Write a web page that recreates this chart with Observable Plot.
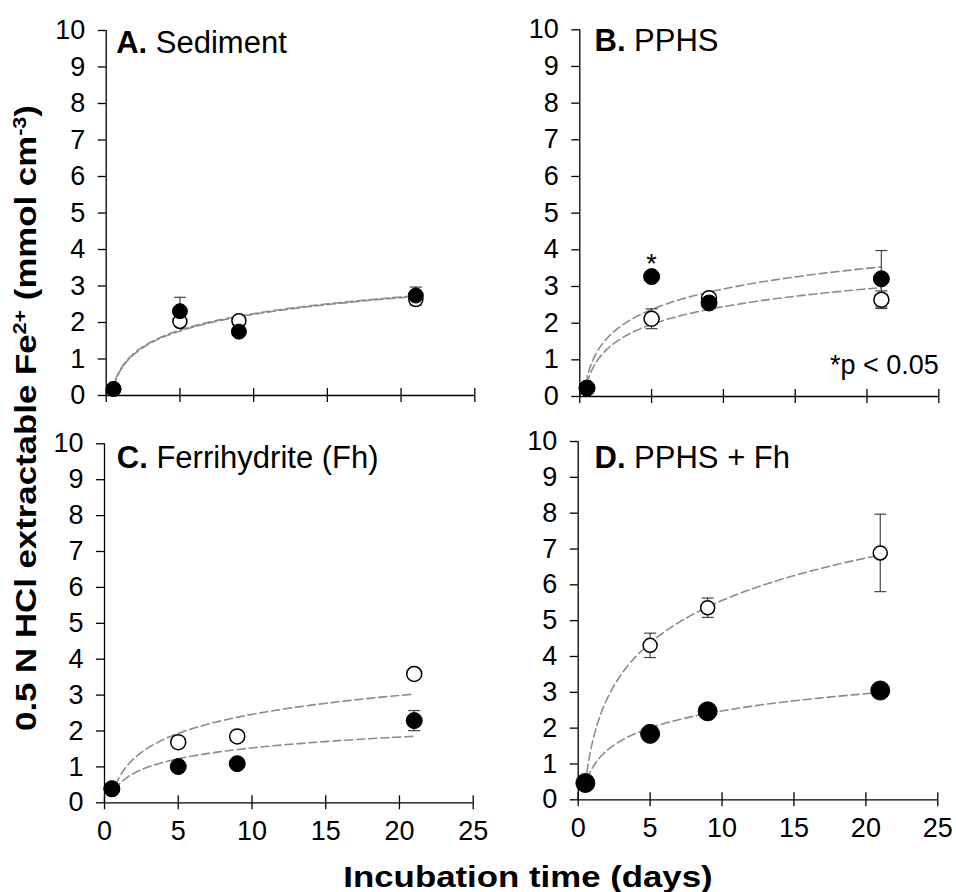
<!DOCTYPE html>
<html>
<head>
<meta charset="utf-8">
<script src="https://cdn.jsdelivr.net/npm/d3@7"></script>
<script src="https://cdn.jsdelivr.net/npm/@observablehq/plot@0.6"></script>
<style>
  html, body { margin: 0; padding: 0; background: #fff; }
  #wrap { position: relative; width: 956px; height: 892px; overflow: hidden;
          font-family: "Liberation Sans", Arial, Helvetica, sans-serif; color: #000; }
  .axis-title { position: absolute; white-space: nowrap; font-weight: bold; font-size: 30px; line-height: 1.15; }
  .axis-title sup { font-size: 0.62em; vertical-align: 0.55em; line-height: 0; }
</style>
</head>
<body>
<div id="wrap"></div>
<script>
// ---------------- data ----------------
const days = [0.5, 5, 9, 21];
const xTicks = [0, 5, 10, 15, 20, 25];
const yTicks = [0, 1, 2, 3, 4, 5, 6, 7, 8, 9, 10];

const panelLetters = ["A.", "B.", "C.", "D."];
const panelNames = ["Sediment", "PPHS", "Ferrihydrite (Fh)", "PPHS + Fh"];

// open circles
const sedimentOpen    = [0.18, 2.03, 2.05, 2.63];
const sedimentOpenErr = [0.05, 0.12, 0.10, 0.15];
// filled circles
const sedimentFilled    = [0.18, 2.31, 1.75, 2.74];
const sedimentFilledErr = [0.05, 0.38, 0.10, 0.23];

const pphsOpen    = [0.23, 2.12, 2.68, 2.64];
const pphsOpenErr = [0.05, 0.27, 0.12, 0.24];
const pphsFilled    = [0.23, 3.27, 2.55, 3.21];
const pphsFilledErr = [0.05, 0.10, 0.12, 0.77];

const fhOpen    = [0.39, 1.69, 1.85, 3.59];
const fhOpenErr = [0.05, 0.10, 0.10, 0.10];
const fhFilled    = [0.39, 1.01, 1.09, 2.29];
const fhFilledErr = [0.05, 0.10, 0.10, 0.28];

const pphsFhOpen    = [0.47, 4.31, 5.36, 6.89];
const pphsFhOpenErr = [0.05, 0.34, 0.27, 1.08];
const pphsFhFilled    = [0.47, 1.84, 2.47, 3.05];
const pphsFhFilledErr = [0.05, 0.15, 0.15, 0.15];

// significance marker (panel B, filled series) and note
const pphsSigDays = [5];
const pphsNote = ["*p < 0.05"];

const xTitle = "Incubation time (days)";

// ---------------- layout / style ----------------
const FONT = "'Liberation Sans', Arial, Helvetica, sans-serif";
const TICK_SIZE = 27;
const TITLE_SIZE = 31;
const xDomain = [0, 25];
const yDomain = [0, 10];

const panels = [
  {letter: panelLetters[0], name: panelNames[0], open: sedimentOpen, openErr: sedimentOpenErr, filled: sedimentFilled, filledErr: sedimentFilledErr,
   L: {left: 30, top: 0, width: 460, height: 420, ml: 75.7, mr: 15.7, mt: 30, mb: 25, xLabels: false, titleDx: 10, titleDy: 22, rOpen: 7, rFilled: 7.5}},
  {letter: panelLetters[1], name: panelNames[1], open: pphsOpen, openErr: pphsOpenErr, filled: pphsFilled, filledErr: pphsFilledErr,
   sig: pphsSigDays, note: pphsNote,
   L: {left: 500, top: 0, width: 456, height: 420, ml: 79.3, mr: 17.7, mt: 29.3, mb: 24, xLabels: false, titleDx: 14.7, titleDy: 21, rOpen: 7.5, rFilled: 8}},
  {letter: panelLetters[2], name: panelNames[2], open: fhOpen, openErr: fhOpenErr, filled: fhFilled, filledErr: fhFilledErr,
   L: {left: 30, top: 420, width: 460, height: 440, ml: 74, mr: 17.3, mt: 23.3, mb: 57.7, xLabels: true, titleDx: 12.3, titleDy: 24, rOpen: 7.5, rFilled: 8}},
  {letter: panelLetters[3], name: panelNames[3], open: pphsFhOpen, openErr: pphsFhOpenErr, filled: pphsFhFilled, filledErr: pphsFhFilledErr,
   L: {left: 500, top: 420, width: 456, height: 440, ml: 77.7, mr: 18.7, mt: 21, mb: 60.7, xLabels: true, titleDx: 16.3, titleDy: 26, rOpen: 7, rFilled: 9.5}}
];

// Excel-style logarithmic trendline (least squares of y on ln x) from the data
function logFit(xs, ys) {
  const lx = xs.map(Math.log);
  const mx = d3.mean(lx), my = d3.mean(ys);
  const sxy = d3.sum(lx, (v, i) => (v - mx) * (ys[i] - my));
  const sxx = d3.sum(lx, v => (v - mx) ** 2);
  const b = sxy / sxx;
  return {a: my - b * mx, b};
}
function trendCurve(xs, ys) {
  const {a, b} = logFit(xs, ys);
  const x0 = d3.min(xs), x1 = d3.max(xs);
  return d3.range(0, 121).map(i => {
    const x = x0 * Math.pow(x1 / x0, i / 120);
    return {day: x, value: a + b * Math.log(x)};
  });
}

function measure(text, font) {
  const c = measure.ctx || (measure.ctx = document.createElement("canvas").getContext("2d"));
  c.font = font;
  return c.measureText(text).width;
}

const capSymbol = {
  draw(context, size) {
    const r = Math.sqrt(size / Math.PI);
    context.moveTo(-r, 0);
    context.lineTo(r, 0);
  }
};

const wrap = document.getElementById("wrap");

for (const p of panels) {
  const L = p.L;
  const openRows = days.map((d, i) => ({day: d, mean: p.open[i], err: p.openErr[i]}));
  const filledRows = days.map((d, i) => ({day: d, mean: p.filled[i], err: p.filledErr[i]}));
  const allRows = openRows.concat(filledRows);
  const openCurve = trendCurve(days, p.open);
  const filledCurve = trendCurve(days, p.filled);
  const nameDx = measure(p.letter, `bold ${TITLE_SIZE}px ${FONT}`) + measure(" ", `${TITLE_SIZE}px ${FONT}`);

  const marks = [
    // axis lines
    Plot.ruleY([yDomain[0]], {stroke: "#000", strokeWidth: 1.3}),
    Plot.ruleX([xDomain[0]], {stroke: "#000", strokeWidth: 1.3}),
    // y axis ticks + labels
    Plot.axisY(yTicks, {tickSize: 8, tickPadding: 13, label: null, stroke: "#000", strokeWidth: 1.3, fontSize: TICK_SIZE}),
    // x ticks crossing the axis
    Plot.ruleX(xTicks, {x: d => d, y1: () => yDomain[0], y2: () => yDomain[0], insetTop: -7, insetBottom: -7, stroke: "#000", strokeWidth: 1.3}),
    L.xLabels ? Plot.axisX(xTicks, {tickSize: 0, tickPadding: 18, label: null, fontSize: TICK_SIZE}) : null,
    // trend lines
    Plot.line(openCurve, {x: "day", y: "value", stroke: "#8c8c8c", strokeWidth: 1.6, strokeDasharray: "8,4"}),
    Plot.line(filledCurve, {x: "day", y: "value", stroke: "#8c8c8c", strokeWidth: 1.6, strokeDasharray: "8,4", strokeDashoffset: 6}),
    // error bars
    Plot.ruleX(allRows, {x: "day", y1: d => d.mean - d.err, y2: d => d.mean + d.err, stroke: "#444", strokeWidth: 1.2}),
    Plot.dot(allRows, {x: "day", y: d => d.mean + d.err, symbol: capSymbol, r: 6, stroke: "#444", strokeWidth: 1.2, fill: "none"}),
    Plot.dot(allRows, {x: "day", y: d => d.mean - d.err, symbol: capSymbol, r: 6, stroke: "#444", strokeWidth: 1.2, fill: "none"}),
    // points
    Plot.dot(openRows, {x: "day", y: "mean", r: L.rOpen, fill: "#fff", stroke: "#000", strokeWidth: 1.5}),
    Plot.dot(filledRows, {x: "day", y: "mean", r: L.rFilled, fill: "#000", stroke: "#000", strokeWidth: 1}),
    // panel title
    Plot.text([p.letter], {text: d => d, frameAnchor: "top-left", dx: L.titleDx, dy: L.titleDy, lineAnchor: "bottom", textAnchor: "start", fontWeight: "bold", fontSize: TITLE_SIZE, fill: "#000"}),
    Plot.text([p.name], {text: d => d, frameAnchor: "top-left", dx: L.titleDx + nameDx, dy: L.titleDy, lineAnchor: "bottom", textAnchor: "start", fontSize: TITLE_SIZE, fill: "#000"})
  ];
  if (p.sig) {
    const sigRows = filledRows.filter(r => p.sig.includes(r.day));
    marks.push(Plot.text(sigRows, {x: "day", y: "mean", text: () => "*", dy: -4, lineAnchor: "bottom", fontSize: TICK_SIZE, fill: "#000"}));
  }
  if (p.note) {
    marks.push(Plot.text(p.note, {text: d => d, frameAnchor: "bottom-right", dy: -23, lineAnchor: "bottom", textAnchor: "end", fontSize: TICK_SIZE, fill: "#000"}));
  }

  const svg = Plot.plot({
    width: L.width,
    height: L.height,
    marginLeft: L.ml, marginRight: L.mr, marginTop: L.mt, marginBottom: L.mb,
    x: {domain: xDomain, axis: null},
    y: {domain: yDomain, axis: null},
    style: {fontFamily: FONT, fontSize: TICK_SIZE + "px", background: "transparent", color: "#000", overflow: "visible"},
    marks
  });
  svg.style.position = "absolute";
  svg.style.left = L.left + "px";
  svg.style.top = L.top + "px";
  wrap.appendChild(svg);
}

// shared axis titles
const ylab = document.createElement("div");
ylab.className = "axis-title";
ylab.innerHTML = "0.5 N HCl extractable Fe<sup>2+</sup> (mmol cm<sup>-3</sup>)";
ylab.style.left = "26px";
ylab.style.top = "418px";
ylab.style.transform = "translate(-50%, -50%) rotate(-90deg) scaleX(1.16)";
wrap.appendChild(ylab);

const xlab = document.createElement("div");
xlab.className = "axis-title";
xlab.textContent = xTitle;
xlab.style.left = "528px";
xlab.style.top = "877px";
xlab.style.transform = "translate(-50%, -50%) scaleX(1.16)";
wrap.appendChild(xlab);
</script>
</body>
</html>
